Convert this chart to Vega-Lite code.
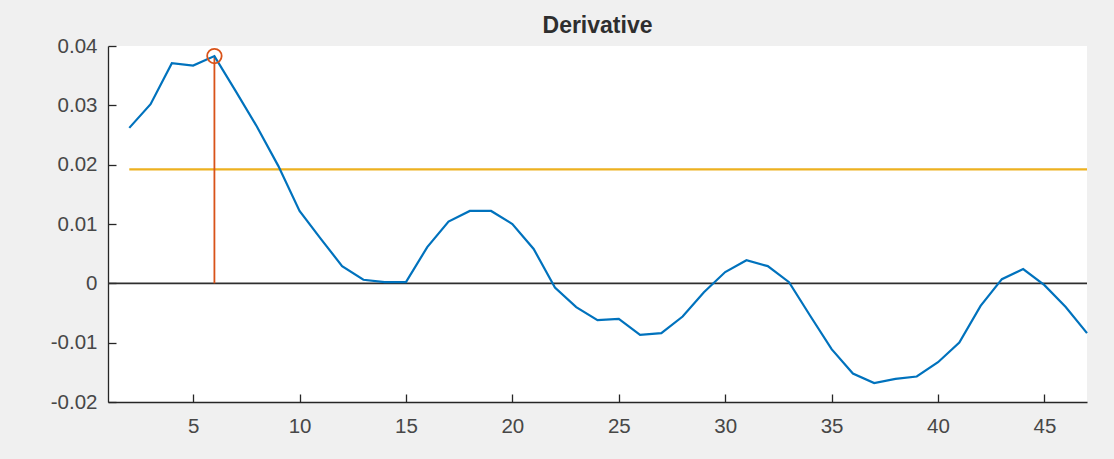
{
  "$schema": "https://vega.github.io/schema/vega-lite/v6.json",
  "width": 979,
  "height": 356,
  "autosize": {"type": "none"},
  "padding": {"left": 108, "top": 46, "right": 27, "bottom": 57},
  "background": "#f0f0f0",
  "view": {"fill": "white", "stroke": null},
  "title": {
    "text": "Derivative",
    "anchor": "middle",
    "font": "Liberation Sans",
    "fontSize": 23,
    "fontWeight": "bold",
    "color": "#2e2e2e",
    "offset": -2
  },
  "config": {
    "axis": {
      "labelFont": "Liberation Sans",
      "labelFontSize": 20.5,
      "labelColor": "#474747",
      "domainColor": "#262626",
      "domainWidth": 1.3,
      "tickColor": "#262626",
      "tickWidth": 1.3,
      "tickSize": -8,
      "grid": false,
      "title": null
    }
  },
  "datasets": {
    "deriv": [
      {"x": 2, "d": 0.0262}, {"x": 3, "d": 0.0302}, {"x": 4, "d": 0.0371},
      {"x": 5, "d": 0.0367}, {"x": 6, "d": 0.0383}, {"x": 7, "d": 0.0324},
      {"x": 8, "d": 0.0264}, {"x": 9, "d": 0.0198}, {"x": 10, "d": 0.0122},
      {"x": 11, "d": 0.0075}, {"x": 12, "d": 0.0029}, {"x": 13, "d": 0.0006},
      {"x": 14, "d": 0.0002}, {"x": 15, "d": 0.0002}, {"x": 16, "d": 0.0061},
      {"x": 17, "d": 0.0104}, {"x": 18, "d": 0.0122}, {"x": 19, "d": 0.0122},
      {"x": 20, "d": 0.0100}, {"x": 21, "d": 0.0058}, {"x": 22, "d": -0.0007},
      {"x": 23, "d": -0.0040}, {"x": 24, "d": -0.0062}, {"x": 25, "d": -0.0060},
      {"x": 26, "d": -0.0087}, {"x": 27, "d": -0.0084}, {"x": 28, "d": -0.0056},
      {"x": 29, "d": -0.0015}, {"x": 30, "d": 0.0019}, {"x": 31, "d": 0.0039},
      {"x": 32, "d": 0.0029}, {"x": 33, "d": 0.0002}, {"x": 34, "d": -0.0055},
      {"x": 35, "d": -0.0111}, {"x": 36, "d": -0.0152}, {"x": 37, "d": -0.0168},
      {"x": 38, "d": -0.0161}, {"x": 39, "d": -0.0157}, {"x": 40, "d": -0.0133},
      {"x": 41, "d": -0.0100}, {"x": 42, "d": -0.0038}, {"x": 43, "d": 0.0007},
      {"x": 44, "d": 0.0024}, {"x": 45, "d": -0.0003}, {"x": 46, "d": -0.0040},
      {"x": 47, "d": -0.0084}
    ],
    "threshold": [{"x": 2, "x2": 47, "y": 0.0192}],
    "peak": [{"x": 6, "y": 0.0383, "base": 0}],
    "zero": [{"y": 0}]
  },
  "layer": [
    {
      "data": {"name": "zero"},
      "mark": {"type": "rule", "color": "#2e2e2e", "strokeWidth": 1.6},
      "encoding": {
        "y": {"field": "y", "type": "quantitative", "scale": {"domain": [-0.02, 0.04], "nice": false, "zero": false}}
      }
    },
    {
      "data": {"name": "threshold"},
      "mark": {"type": "rule", "color": "#EDB120", "strokeWidth": 2.4},
      "encoding": {
        "x": {"field": "x", "type": "quantitative"},
        "x2": {"field": "x2"},
        "y": {"field": "y", "type": "quantitative"}
      }
    },
    {
      "data": {"name": "peak"},
      "mark": {"type": "rule", "color": "#D95319", "strokeWidth": 1.8},
      "encoding": {
        "x": {"field": "x", "type": "quantitative"},
        "y": {"field": "base", "type": "quantitative"},
        "y2": {"field": "y"}
      }
    },
    {
      "data": {"name": "deriv"},
      "mark": {"type": "line", "color": "#0072BD", "strokeWidth": 2.2},
      "encoding": {
        "x": {
          "field": "x", "type": "quantitative",
          "scale": {"domain": [1, 47], "nice": false, "zero": false},
          "axis": {"values": [5, 10, 15, 20, 25, 30, 35, 40, 45], "labelPadding": 22}
        },
        "y": {
          "field": "d", "type": "quantitative",
          "scale": {"domain": [-0.02, 0.04], "nice": false, "zero": false},
          "axis": {
            "values": [-0.02, -0.01, 0, 0.01, 0.02, 0.03, 0.04],
            "labelExpr": "datum.value == 0 ? '0' : replace(format(datum.value, '.2f'), '\u2212', '-')",
            "labelPadding": 19
          }
        }
      }
    },
    {
      "data": {"name": "peak"},
      "mark": {"type": "point", "shape": "circle", "color": "#D95319", "filled": false, "strokeWidth": 1.8, "size": 210, "opacity": 1},
      "encoding": {
        "x": {"field": "x", "type": "quantitative"},
        "y": {"field": "y", "type": "quantitative"}
      }
    }
  ]
}
